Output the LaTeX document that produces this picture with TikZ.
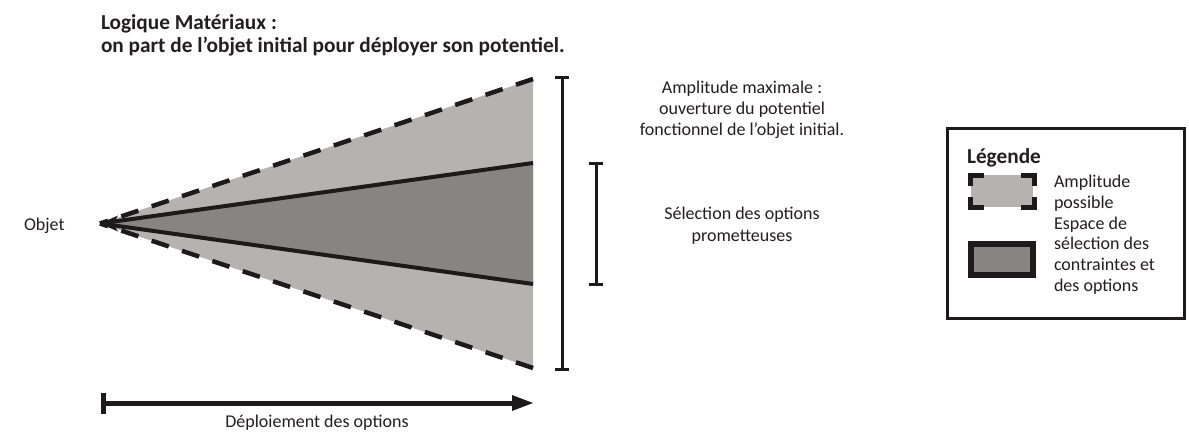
\documentclass[tikz,border=0pt]{standalone}
\usepackage{fontspec}
\setmainfont{Carlito}
\definecolor{lightfill}{RGB}{181,178,178}
\definecolor{darkfill}{RGB}{136,132,132}
\definecolor{ink}{RGB}{28,26,27}
\definecolor{txt}{RGB}{35,31,32}
\begin{document}
\begin{tikzpicture}[x=1pt,y=-1pt,
  lbl/.style={inner sep=0pt, outer sep=0pt, text=txt, font=\fontsize{18}{21}\selectfont},
  ttl/.style={inner sep=0pt, outer sep=0pt, text=txt, font=\bfseries\fontsize{21.3}{25}\selectfont, anchor=base west},
  dashline/.style={draw=ink, line width=4.5pt, dash pattern=on 18pt off 14pt},
  solidline/.style={draw=ink, line width=4pt},
  bracket/.style={draw=ink, line width=3pt},
  corner/.style={draw=ink, line width=5pt},
]
\fill[white] (0,0) rectangle (1189,432);
\useasboundingbox (0,0) rectangle (1189,432);

% title
\node[ttl] (t1) at (101,29) {Logique Matériaux :};
\node[ttl] (t2) at (101,52) {on part de l’objet initial pour déployer son potentiel.};

% cone
\coordinate (apex) at (100,223.5);
\coordinate (outT) at (533,79);
\coordinate (outB) at (533,368);
\coordinate (inT) at (533,163);
\coordinate (inB) at (533,284);
\fill[lightfill] (apex) -- (outT) -- (outB) -- cycle;
\fill[darkfill] (apex) -- (inT) -- (inB) -- cycle;
\draw[dashline] (outT) -- (apex);
\draw[dashline] (outB) -- (apex);
\draw[solidline] (apex) -- (inT);
\draw[solidline] (apex) -- (inB);
\fill[ink] (apex) -- (118,215.5) -- (113,223.5) -- (118,231.5) -- cycle;

\node[lbl, anchor=base west] (objet) at (24,230) {Objet};

% brackets
\coordinate (bigT) at (562,77);
\coordinate (bigB) at (562,369);
\draw[bracket] (bigT) -- (bigB);
\draw[bracket] ([xshift=-7pt]bigT) -- ([xshift=7pt]bigT);
\draw[bracket] ([xshift=-7pt]bigB) -- ([xshift=7pt]bigB);
\coordinate (smT) at (596,163);
\coordinate (smB) at (596,284);
\draw[bracket] (smT) -- (smB);
\draw[bracket] ([xshift=-7pt]smT) -- ([xshift=7pt]smT);
\draw[bracket] ([xshift=-7pt]smB) -- ([xshift=7pt]smB);

\node[lbl, anchor=base] (amp1) at (742,93) {Amplitude maximale :};
\node[lbl, anchor=base] (amp2) at (742,114) {ouverture du potentiel};
\node[lbl, anchor=base] (amp3) at (742,135) {fonctionnel de l’objet initial.};
\node[lbl, anchor=base] (sel1) at (742,219) {Sélection des options};
\node[lbl, anchor=base] (sel2) at (742,241) {prometteuses};

% deployment arrow
\coordinate (arrS) at (103,403);
\coordinate (arrE) at (533,403);
\draw[ink, line width=5pt] (arrS) -- (514,403);
\draw[ink, line width=5pt] (103,392.5) -- (103,414);
\fill[ink] (512,395) -- (arrE) -- (512,411) -- cycle;
\node[lbl, anchor=base] (deploi) at (317,427) {Déploiement des options};

% legend
\draw[draw=ink, line width=3pt] (947,128) rectangle (1184,318);
\node[ttl] (leg) at (967,163) {Légende};
\fill[lightfill] (971,175) rectangle (1033,207);
\draw[corner] (984,175.5) -- (970.5,175.5) -- (970.5,186);
\draw[corner] (1021,175.5) -- (1034.5,175.5) -- (1034.5,186);
\draw[corner] (984,207.5) -- (970.5,207.5) -- (970.5,197);
\draw[corner] (1021,207.5) -- (1034.5,207.5) -- (1034.5,197);
\draw[draw=ink, line width=6pt, fill=darkfill] (971,244) rectangle (1033,275);
\node[lbl, anchor=base west] (l1) at (1054,187) {Amplitude};
\node[lbl, anchor=base west] (l2) at (1054,208) {possible};
\node[lbl, anchor=base west] (l3) at (1054,229) {Espace de};
\node[lbl, anchor=base west] (l4) at (1054,249) {sélection des};
\node[lbl, anchor=base west] (l5) at (1054,270) {contraintes et};
\node[lbl, anchor=base west] (l6) at (1054,291) {des options};
\end{tikzpicture}
\end{document}
